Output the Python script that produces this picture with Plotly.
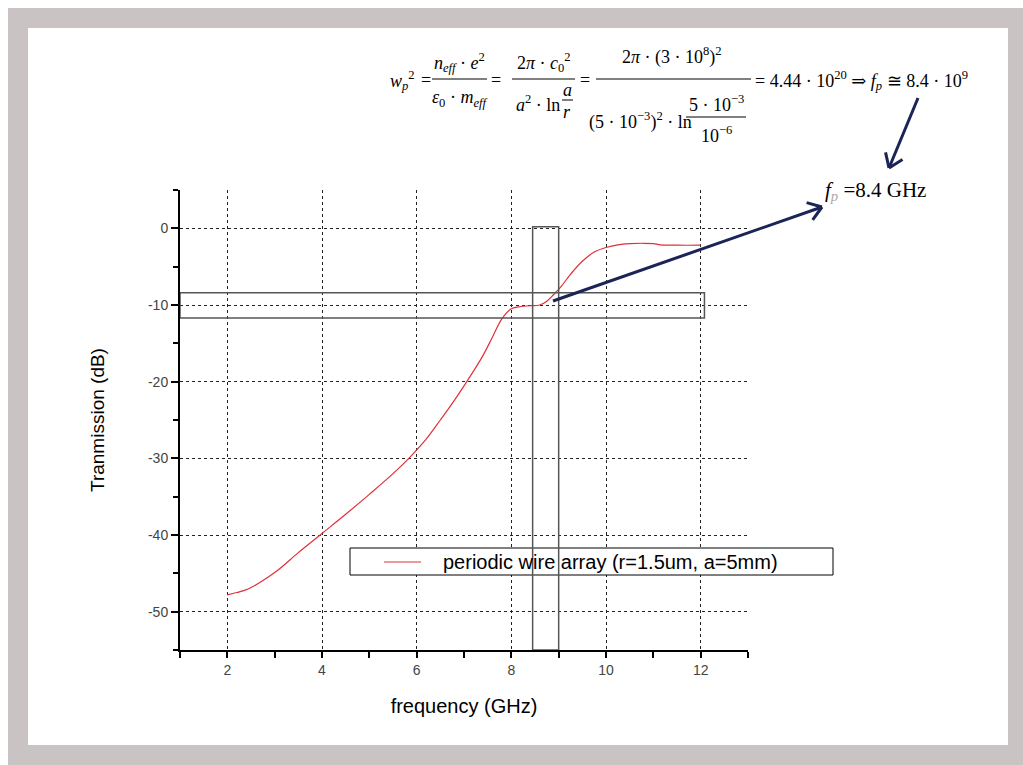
import math
import plotly.graph_objects as go

# Transmission of a periodic wire array versus frequency
freq_ghz = [2.0, 2.2, 2.45, 3.0, 3.5, 4.0, 4.5, 5.0, 5.5, 5.85, 6.2, 6.5, 6.8,
            7.1, 7.4, 7.6, 7.8, 8.0, 8.2, 8.4, 8.6, 8.75, 8.9, 9.05, 9.25,
            9.5, 9.75, 10.0, 10.25, 10.5, 10.8, 11.0, 11.15, 11.5, 12.0]
transmission_db = [-47.8, -47.5, -47.0, -44.9, -42.3, -39.8, -37.3, -34.7,
                   -32.0, -29.9, -27.5, -25.0, -22.4, -19.6, -16.6, -14.2,
                   -11.8, -10.5, -10.2, -10.1, -10.0, -9.5, -8.6, -7.6, -6.0,
                   -4.3, -3.1, -2.5, -2.15, -2.0, -1.95, -2.0, -2.15, -2.2, -2.2]
series_name = "periodic wire array (r=1.5um, a=5mm)"

x_ticks = [2, 4, 6, 8, 10, 12]
y_ticks = [0, -10, -20, -30, -40, -50]

# highlighted regions (plateau near -10 dB and the plasma frequency band)
band_db = (-11.7, -8.4)
band_ghz = (8.45, 9.0)

W, H = 1023, 765
L, R, T, B = 180, 275, 190, 115
PW, PH = W - L - R, H - T - B


def paper(px, py):
    """Figure pixel position -> paper coordinates of the plot area."""
    return (px - L) / PW, (H - B - py) / PH


SERIF = "Liberation Serif, DejaVu Serif, serif"
SANS = "Liberation Sans, Arial, sans-serif"
NAVY = "#1b2357"
RED = "#e0303a"

fig = go.Figure()
fig.add_trace(go.Scatter(x=freq_ghz, y=transmission_db, mode="lines",
                         name=series_name, showlegend=False,
                         line=dict(color=RED, width=1.2, shape="spline")))

shapes = []
annotations = []

# page frame
x0, y0 = paper(8, 8)
x1, y1 = paper(1023, 765)
shapes.append(dict(type="rect", xref="paper", yref="paper", x0=x0, y0=y1, x1=x1, y1=y0,
                   fillcolor="#c9c3c3", line=dict(width=0), layer="below"))
x0, y0 = paper(28, 28)
x1, y1 = paper(1008, 745)
shapes.append(dict(type="rect", xref="paper", yref="paper", x0=x0, y0=y1, x1=x1, y1=y0,
                   fillcolor="white", line=dict(width=0), layer="below"))


def seg(p, q, color="black", width=1.0):
    a = paper(*p)
    b = paper(*q)
    shapes.append(dict(type="line", xref="paper", yref="paper",
                       x0=a[0], y0=a[1], x1=b[0], y1=b[1],
                       line=dict(color=color, width=width)))


def text(s, px, py, size=18, anchor="center", family=SERIF, color="black"):
    x, y = paper(px, py)
    annotations.append(dict(text=s, x=x, y=y, xref="paper", yref="paper",
                            xanchor=anchor, yanchor="middle", showarrow=False,
                            font=dict(family=family, size=size, color=color)))


def arrow(tail, tip, color=NAVY, width=3, barb=16, spread=35):
    seg(tail, tip, color, width)
    ang = math.atan2(tail[1] - tip[1], tail[0] - tip[0])
    for s in (-1, 1):
        a = ang + s * math.radians(spread)
        seg(tip, (tip[0] + barb * math.cos(a), tip[1] + barb * math.sin(a)), color, width)


# legend box
lx0, ly0 = paper(350, 548)
lx1, ly1 = paper(833, 575)
shapes.append(dict(type="rect", xref="paper", yref="paper", x0=lx0, y0=ly1, x1=lx1, y1=ly0,
                   fillcolor="white", line=dict(color="black", width=1)))
seg((384, 562), (421, 562), RED, 1.2)
text(series_name, 441, 562, size=20, anchor="left", family=SANS)

# highlight rectangles
shapes.append(dict(type="rect", xref="x", yref="y", x0=1.0, x1=12.08,
                   y0=band_db[0], y1=band_db[1], line=dict(color="#555555", width=1.5)))
shapes.append(dict(type="rect", xref="x", yref="y", x0=band_ghz[0], x1=band_ghz[1],
                   y0=-55, y1=0.2, line=dict(color="#555555", width=1.5)))

# plasma frequency formula
text("<i>w</i><sub><i>p</i></sub><sup>2</sup>", 402, 80)
text("=", 426, 80)
text("<i>n</i><sub><i>eff</i></sub> · <i>e</i><sup>2</sup>", 459, 62)
seg((432, 79), (487, 79))
text("<i>ε</i><sub>0</sub> · <i>m</i><sub><i>eff</i></sub>", 459, 99)
text("=", 496, 80)
text("2<i>π</i> · <i>c</i><sub>0</sub><sup>2</sup>", 544, 62)
seg((512, 79), (575, 79))
text("<i>a</i><sup>2</sup> · ln", 538, 103)
text("<i>a</i>", 567, 90)
seg((562, 100), (573, 100))
text("<i>r</i>", 567, 112)
text("=", 585, 80)
text("2<i>π</i> · (3 · 10<sup>8</sup>)<sup>2</sup>", 672, 56)
seg((596, 79), (751, 79))
text("(5 · 10<sup>−3</sup>)<sup>2</sup> · ln", 640, 121)
text("5 · 10<sup>−3</sup>", 716, 104)
seg((686, 117), (746, 117))
text("10<sup>−6</sup>", 716, 134)
text("= 4.44 · 10<sup>20</sup> ⇒ <i>f</i><sub><i>p</i></sub> ≅ 8.4 · 10<sup>9</sup>", 753, 80, anchor="left")

text("<i>f</i><sub><span style='color:#aaaaaa'><i>p</i></span></sub> =8.4 GHz", 823, 191, size=21, anchor="left")

arrow((918, 98), (889, 168))
arrow((553, 301), (822, 207))

fig.update_layout(
    width=W, height=H, autosize=False,
    margin=dict(l=L, r=R, t=T, b=B, pad=0),
    paper_bgcolor="white", plot_bgcolor="rgba(0,0,0,0)",
    showlegend=False,
    shapes=shapes, annotations=annotations,
    xaxis=dict(range=[1, 13], tickvals=x_ticks, ticktext=[str(v) for v in x_ticks],
               showline=True, linecolor="black", linewidth=2, mirror=False,
               ticks="outside", ticklen=6, tickwidth=2, tickcolor="black",
               minor=dict(dtick=1, ticks="outside", ticklen=6, tickwidth=2,
                          tickcolor="black", showgrid=False),
               showgrid=True, gridcolor="#222222", gridwidth=1, griddash="3px,3px",
               zeroline=False,
               tickfont=dict(family=SANS, size=14, color="#444444"),
               title=dict(text="frequency (GHz)", standoff=22,
                          font=dict(family=SANS, size=20, color="black"))),
    yaxis=dict(range=[-55, 5], tickvals=y_ticks, ticktext=[str(v) for v in y_ticks],
               showline=True, linecolor="black", linewidth=2, mirror=False,
               ticks="outside", ticklen=7, tickwidth=2, tickcolor="black",
               minor=dict(dtick=5, ticks="outside", ticklen=5, tickwidth=2,
                          tickcolor="black", showgrid=False),
               showgrid=True, gridcolor="#222222", gridwidth=1, griddash="3px,3px",
               zeroline=False,
               tickfont=dict(family=SANS, size=14, color="#444444"),
               title=dict(text="Tranmission (dB)", standoff=38,
                          font=dict(family=SANS, size=19, color="black"))),
)

fig.write_html("out.html")
